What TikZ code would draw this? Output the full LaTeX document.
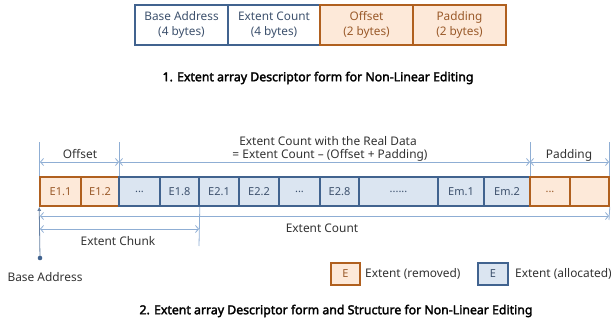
\documentclass[tikz,border=0pt]{standalone}
\usepackage{fontspec}
\setmainfont{Noto Sans}
\newfontfamily\captfont[FakeBold=2.4]{Noto Sans}
\usetikzlibrary{arrows.meta}
\definecolor{blueline}{HTML}{41638F}
\definecolor{bluefill}{HTML}{DBE5F1}
\definecolor{orangeline}{HTML}{B0601F}
\definecolor{orangefill}{HTML}{FDE9D9}
\definecolor{dimline}{HTML}{8FAED4}
\definecolor{bluetext}{HTML}{3E526E}
\definecolor{orangetext}{HTML}{9A5A2A}
\definecolor{plaintext}{HTML}{333333}
\newcommand\threedots{...}
\newcommand\sixdots{......}
\tikzset{
  txt/.style={font=\fontsize{11.9}{13}\selectfont, text=plaintext, inner sep=0pt},
  capt/.style={font=\captfont\fontsize{12.3}{14}\selectfont, text=black, inner sep=0pt},
  hdrblue/.style={draw=blueline, line width=1.8pt, fill=white, text=bluetext,
    font=\fontsize{11.8}{15}\selectfont, align=center, inner sep=0pt},
  hdrorange/.style={draw=orangeline, line width=1.8pt, fill=orangefill, text=orangetext,
    font=\fontsize{11.8}{15}\selectfont, align=center, inner sep=0pt},
  allocated/.style={draw=blueline, line width=1.6pt, fill=bluefill, text=bluetext,
    font=\fontsize{11}{12}\selectfont, inner sep=0pt},
  removed/.style={draw=orangeline, line width=1.6pt, fill=orangefill, text=orangetext,
    font=\fontsize{11}{12}\selectfont, inner sep=0pt},
  dim/.style={draw=dimline, line width=0.8pt},
  dimarrow/.style={dim, {Straight Barb[length=3pt,width=7pt]}-{Straight Barb[length=3pt,width=7pt]}},
}
\begin{document}
\begin{tikzpicture}[x=1pt, y=-1pt]
\useasboundingbox (0,0) rectangle (611,326);

% descriptor header fields
\node[hdrblue, minimum width=93pt, minimum height=40pt] (ba) at (181.5,25) {Base Address\\(4 bytes)};
\node[hdrblue, minimum width=92pt, minimum height=40pt] (ec) at (274,25) {Extent Count\\(4 bytes)};
\node[hdrorange, minimum width=93pt, minimum height=40pt] (of) at (366.5,25) {Offset\\(2 bytes)};
\node[hdrorange, minimum width=93pt, minimum height=40pt] (pd) at (459.5,25) {Padding\\(2 bytes)};
\draw[blueline, line width=1.8pt] (135,5) rectangle (320,45);
\draw[blueline, line width=1.8pt] (228,5) -- (228,45);
\draw[orangeline, line width=1.8pt] (320,5) rectangle (506,45);
\draw[orangeline, line width=1.8pt] (413,5) -- (413,45);

\node[capt] (cap1) at (318,78) {1. Extent array Descriptor form for Non-Linear Editing};

% extent array
\foreach \l/\r/\t/\s/\n in {40/81/E1.1/removed/c1, 81/119/E1.2/removed/c2,
    119/160/\threedots/allocated/c3, 160/199/E1.8/allocated/c4, 199/239/E2.1/allocated/c5,
    239/279/E2.2/allocated/c6, 279/320/\threedots/allocated/c7, 320/359/E2.8/allocated/c8,
    359/438/\sixdots/allocated/c9, 438/484/Em.1/allocated/c10, 484/530/Em.2/allocated/c11,
    530/570/\threedots/removed/c12, 570/609/{}/removed/c13}
  \node[\s, minimum width={\r-\l}, minimum height=29pt] (\n) at ({(\l+\r)/2},191.5) {\t};

% dimension lines above the array
\draw[dim] (c1.north west) -- +(0,-34) coordinate (o1);
\draw[dim] (c2.north east) -- +(0,-34) coordinate (o2);
\draw[dim] (c11.north east) -- +(0,-34) coordinate (o3);
\draw[dim] (c13.north east) -- +(0,-34) coordinate (o4);
\coordinate (a1) at (40,162);
\coordinate (a2) at (119,162);
\coordinate (a3) at (530,162);
\coordinate (a4) at (609,162);
\draw[dimarrow] (a1) -- (a2);
\draw[dimarrow] (a2) -- (a3);
\draw[dimarrow] (a3) -- (a4);
\node[txt] (toff) at (80,154) {Offset};
\node[txt] (treal1) at (328,141) {Extent Count with the Real Data};
\node[txt] (treal2) at (330,155) {= Extent Count – (Offset + Padding)};
\node[txt] (tpad) at (569,155) {Padding};

% dimension lines below the array
\coordinate (base) at (40,258);
\draw[dim, -{Latex[length=4pt,width=4pt]}, draw=blueline!80] (base) -- (c1.south west);
\fill[blueline] (base) circle (2.3pt);
\draw[dim] (c4.south east) -- (199,246) coordinate (chunkend);
\draw[dim] (c13.south east) -- (609,220) coordinate (countend);
\coordinate (b1) at (40,216);
\coordinate (b2) at (609,216);
\coordinate (b3) at (40,229);
\coordinate (b4) at (199,229);
\draw[dimarrow] (b1) -- (b2);
\draw[dimarrow] (b3) -- (b4);
\node[txt] (tchunk) at (118,241) {Extent Chunk};
\node[txt] (tcount) at (322,228) {Extent Count};
\node[txt] (tbase) at (45,277) {Base Address};

% legend
\node[removed, minimum width=29pt, minimum height=22pt] (lr) at (345.5,274) {E};
\node[txt, anchor=west] (lrt) at (365,274) {Extent (removed)};
\node[allocated, minimum width=30pt, minimum height=22pt] (la) at (493,274) {E};
\node[txt, anchor=west] (lat) at (515,274) {Extent (allocated)};

\node[capt] (cap2) at (336,311) {2. Extent array Descriptor form and Structure for Non-Linear Editing};
\end{tikzpicture}
\end{document}
